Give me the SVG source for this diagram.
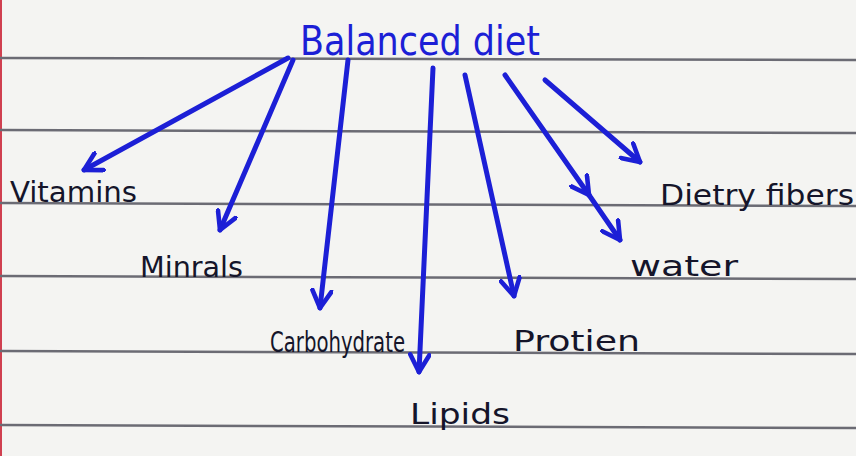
<svg xmlns="http://www.w3.org/2000/svg" width="856" height="456" viewBox="0 0 856 456">
<defs>
<style>
.rule{stroke:#6b6b74;stroke-width:2.5;fill:none}
.arrow{stroke:#1c1fd6;stroke-width:5;fill:none;stroke-linecap:round;stroke-linejoin:round}
.label{font-family:"DejaVu Sans Condensed","Liberation Sans",sans-serif;fill:#15152a;font-size:28px}
.title{font-family:"DejaVu Sans Condensed","Liberation Sans",sans-serif;fill:#1c1fd6;font-size:40px}
</style>
<marker id="head" viewBox="0 0 12 12" refX="10" refY="6" markerWidth="4.6" markerHeight="4.6" orient="auto" markerUnits="strokeWidth">
<path d="M1,1 L10,6 L1,11" fill="none" stroke="#1c1fd6" stroke-width="2.4" stroke-linecap="round" stroke-linejoin="round"/>
</marker>
</defs>
<rect width="856" height="456" fill="#f4f4f2"/>
<line x1="1" y1="0" x2="1" y2="456" stroke="#d04050" stroke-width="2"/>
<g id="rules">
<line class="rule" x1="0" y1="58" x2="856" y2="60"/>
<line class="rule" x1="0" y1="130" x2="856" y2="133"/>
<line class="rule" x1="0" y1="203" x2="856" y2="206"/>
<line class="rule" x1="0" y1="276" x2="856" y2="279"/>
<line class="rule" x1="0" y1="351" x2="856" y2="354"/>
<line class="rule" x1="0" y1="425" x2="856" y2="428"/>
</g>
<g id="connectors">
<line class="arrow" x1="288" y1="58" x2="84" y2="170" marker-end="url(#head)"/>
<line class="arrow" x1="293" y1="60" x2="220" y2="230" marker-end="url(#head)"/>
<line class="arrow" x1="348" y1="60" x2="320" y2="308" marker-end="url(#head)"/>
<line class="arrow" x1="433" y1="68" x2="419" y2="372" marker-end="url(#head)"/>
<line class="arrow" x1="465" y1="75" x2="514" y2="296" marker-end="url(#head)"/>
<line class="arrow" x1="505" y1="75" x2="589" y2="195" marker-end="url(#head)"/>
<line class="arrow" x1="589" y1="195" x2="620" y2="240" marker-end="url(#head)"/>
<line class="arrow" x1="545" y1="80" x2="640" y2="162" marker-end="url(#head)"/>
</g>
<g id="balanced-diet"><text class="title" x="300" y="55" textLength="240" lengthAdjust="spacingAndGlyphs">Balanced diet</text></g>
<g id="vitamins"><text class="label" x="10" y="202" textLength="127" lengthAdjust="spacingAndGlyphs">Vitamins</text></g>
<g id="minerals"><text class="label" x="140" y="277" textLength="103" lengthAdjust="spacingAndGlyphs">Minrals</text></g>
<g id="carbohydrate"><text class="label" x="270" y="352" font-size="25" textLength="135" lengthAdjust="spacingAndGlyphs">Carbohydrate</text></g>
<g id="lipids"><text class="label" x="410" y="424" font-size="32" textLength="100" lengthAdjust="spacingAndGlyphs">Lipids</text></g>
<g id="protien"><text class="label" x="513" y="351" font-size="32" textLength="127" lengthAdjust="spacingAndGlyphs">Protien</text></g>
<g id="water"><text class="label" x="630" y="276" font-size="30" textLength="108" lengthAdjust="spacingAndGlyphs">water</text></g>
<g id="dietry-fibers"><text class="label" x="660" y="205" font-size="32" textLength="194" lengthAdjust="spacingAndGlyphs">Dietry fibers</text></g>
</svg>
